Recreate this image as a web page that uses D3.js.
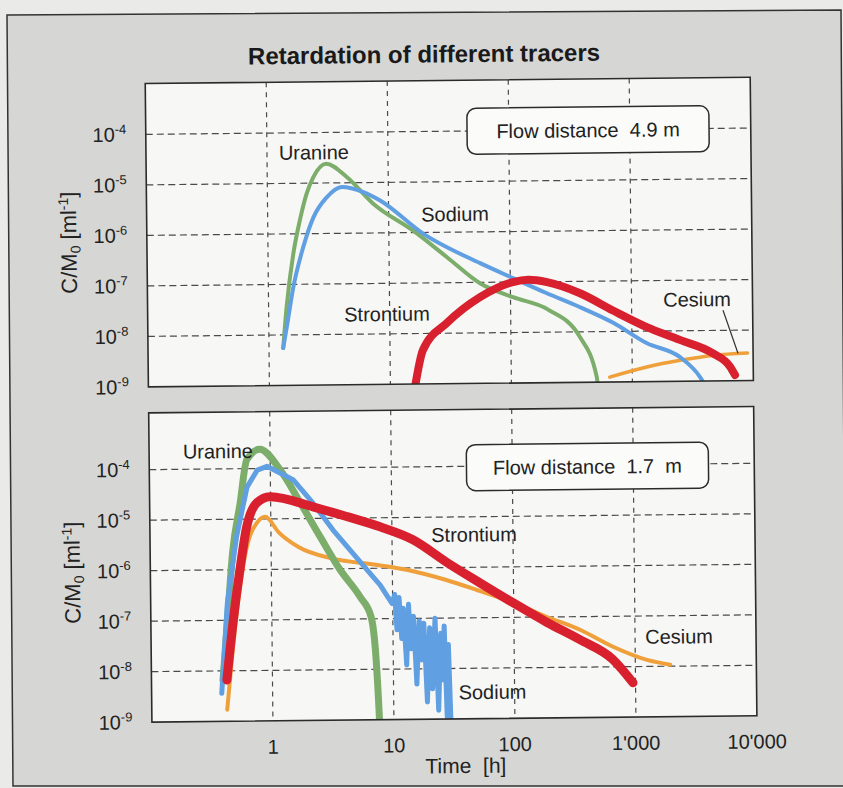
<!DOCTYPE html>
<html>
<head>
<meta charset="utf-8">
<script src="https://cdn.jsdelivr.net/npm/d3@7"></script>
<style>
  body { margin: 0; background: #eaeae8; }
  svg { display: block; font-family: "Liberation Sans", Arial, Helvetica, sans-serif; }
</style>
</head>
<body>
<svg id="chart" width="843" height="788"></svg>
<script>
// ---------------- data ----------------
var timeTicks = [1, 10, 100, 1000, 10000];
var timeTickLabels = ["1", "10", "100", "1'000", "10'000"];
var concExponents = [-4, -5, -6, -7, -8, -9];

// flow distance 4.9 m   [time h, C/M0 ml^-1]
var uranine49 = [[1.31,5.5e-9],[1.41,3.6e-8],[1.62,4.1e-7],[1.85,1.9e-6],[2.11,6.2e-6],[2.40,1.3e-5],
  [3.07,2.4e-5],[4.54,1.3e-5],[7.48,3.8e-6],[15.8,1.1e-6],[30.1,3.2e-7],[56.5,9.5e-8],
  [105,5.0e-8],[204,2.8e-8],[372,7.9e-9],[507,1.3e-9],[518,8.7e-10]];
var sodium49 = [[1.31,5.5e-9],[1.41,1.45e-8],[1.61,8.9e-8],[1.96,5.5e-7],[2.39,2.1e-6],[3.09,5.2e-6],
  [4.12,8.3e-6],[6.21,6.5e-6],[8.53,4.4e-6],[19.2,9.5e-7],[56.5,2.4e-7],[105,1.2e-7],[200,5.9e-8],
  [372,3.1e-8],[697,1.5e-8],[1320,5.8e-9],[2490,3.0e-9],[3630,1.2e-9],[3980,8.3e-10]];
var strontium49 = [[16,9e-10],[18.7,4.7e-9],[29.7,1.6e-8],[56,5.1e-8],[105,1.0e-7],[141,1.1e-7],
  [201,9.8e-8],[376,5.8e-8],[701,2.6e-8],[1330,1.2e-8],[2490,6.6e-9],[4670,3.5e-9],[6440,1.9e-9],
  [7060,1.3e-9]];
var cesium49 = [[650,1.25e-9],[1320,1.95e-9],[2490,2.6e-9],[4670,3.2e-9],[9000,3.5e-9]];

// flow distance 1.7 m
var uranine17 = [[0.39,6.6e-9],[0.43,1.0e-7],[0.48,2.2e-6],[0.56,2.1e-5],[0.64,1.5e-4],[0.82,2.4e-4],
  [1.20,9.5e-5],[1.75,2.1e-5],[2.54,4.4e-6],[3.70,9.5e-7],[5.38,2.75e-7],[6.61,1.1e-7],[7.19,1.8e-8],
  [7.55,1.55e-9],[7.6,1e-9]];
var sodium17 = [[0.38,3.6e-9],[0.43,2.2e-7],[0.52,4.6e-6],[0.64,4.3e-5],[0.78,9.3e-5],[0.94,1.1e-4],
  [1.54,5.9e-5],[2.24,2.0e-5],[3.25,5.9e-6],[4.74,2.0e-6],[6.92,6.8e-7],[7.89,4.7e-7],[9.86,2.0e-7],
  [10.4,3.0e-7],[10.8,6e-8],[11.3,2.6e-7],[11.8,4e-8],[12.2,1.6e-7],[12.9,1.2e-8],[13.5,1.9e-7],
  [14.1,2.5e-8],[14.8,1.1e-7],[15.6,5e-9],[16.5,9e-8],[17.2,1.5e-8],[18.0,8e-8],[19.0,2.2e-9],
  [20.1,6.5e-8],[21.0,4e-9],[22.3,1.0e-7],[23.5,1.5e-9],[24.8,5e-8],[25.6,6e-9],[26.5,7e-8],
  [27.6,1.1e-9],[28.6,3e-8],[29.6,8.9e-10]];
var strontium17 = [[0.42,6.6e-9],[0.48,1.0e-7],[0.55,1.0e-6],[0.63,6.9e-6],[0.77,2.1e-5],[0.99,2.75e-5],
  [2.24,1.7e-5],[4.27,1.07e-5],[7.98,6.6e-6],[14.9,3.6e-6],[28.3,1.26e-6],[52.8,4.9e-7],[98.6,1.95e-7],
  [188,7.8e-8],[350,3.5e-8],[653,1.4e-8],[953,4.8e-9]];
var cesium17 = [[0.42,1.7e-9],[0.47,2.3e-8],[0.55,4.6e-7],[0.63,2.8e-6],[0.77,8.5e-6],[0.90,1.1e-5],
  [1.16,5.4e-6],[1.70,2.7e-6],[3.18,1.6e-6],[7.76,1.15e-6],[14.3,8.8e-7],[27.0,5.8e-7],[50.4,3.5e-7],
  [98.6,1.95e-7],[188,1.0e-7],[351,5.5e-8],[656,2.5e-8],[1250,1.35e-8],[1940,1.07e-8]];

// ---------------- styles / layout ----------------
var colors = { Uranine: "#7dad6b", Sodium: "#5f9fe2", Strontium: "#d8202f", Cesium: "#f0a03a" };

var plotLeft = 148.5, plotRight = 753.5, decadePx = 50.5;

var panels = [
  {
    top: 80.7, bottom: 384, boxText: "Flow distance  4.9 m", boxX: 590.8, boxY: 131.8, xLabels: false,
    series: [
      { name: "Cesium", data: cesium49, width: 3.5 },
      { name: "Uranine", data: uranine49, width: 4 },
      { name: "Sodium", data: sodium49, width: 4 },
      { name: "Strontium", data: strontium49, width: 8 }
    ],
    labels: [
      { text: "Uranine", t: 2.44, c: 4.1e-5 },
      { text: "Sodium", t: 35.4, c: 2.3e-6 },
      { text: "Strontium", t: 9.5, c: 2.5e-8 },
      { text: "Cesium", t: 3480, c: 4.2e-8 }
    ],
    leader: [[5690, 2.5e-8], [7500, 3.5e-9]],
    yTitleY: 239
  },
  {
    top: 410, bottom: 719.3, boxText: "Flow distance  1.7  m", boxX: 586.7, boxY: 468.2, xLabels: true,
    series: [
      { name: "Cesium", data: cesium17, width: 4 },
      { name: "Uranine", data: uranine17, width: 7 },
      { name: "Sodium", data: sodium17, width: 5, linear: true },
      { name: "Strontium", data: strontium17, width: 9 }
    ],
    labels: [
      { text: "Uranine", t: 0.37, c: 2.26e-4 },
      { text: "Strontium", t: 47.6, c: 4.5e-6 },
      { text: "Cesium", t: 2310, c: 3.9e-8 },
      { text: "Sodium", t: 65.6, c: 3.4e-9 }
    ],
    leader: null,
    yTitleY: 569
  }
];

// ---------------- drawing ----------------
var svg = d3.select("#chart");

// scanned page frame
svg.append("path")
  .attr("d", "M7,15 L841,10 L846,786 L13,786 Z")
  .attr("fill", "#d6d6d4")
  .attr("stroke", "#333")
  .attr("stroke-width", 1.5);

var g = svg.append("g").attr("transform", "rotate(-0.6,421,394)");

g.append("text")
  .attr("x", 427.6).attr("y", 62.6)
  .attr("text-anchor", "middle")
  .attr("font-size", 24).attr("font-weight", "bold")
  .attr("fill", "#1a1a1a")
  .text("Retardation of different tracers");

var x = d3.scaleLog().domain([0.1, 10000]).range([plotLeft, plotRight]);

panels.forEach(function(p, pi) {
  var y = d3.scaleLog().domain([1e-9, 1e-3]).range([p.bottom, p.bottom - 6 * decadePx]);

  var clipId = "clip" + pi;
  g.append("clipPath").attr("id", clipId)
    .append("rect")
    .attr("x", plotLeft).attr("y", p.top)
    .attr("width", plotRight - plotLeft).attr("height", p.bottom - p.top);

  g.append("rect")
    .attr("x", plotLeft).attr("y", p.top)
    .attr("width", plotRight - plotLeft).attr("height", p.bottom - p.top)
    .attr("fill", "#f7f7f5");

  // grid
  var gy = concExponents.filter(function(e) { return e > -9; }).map(function(e) { return Math.pow(10, e); });
  g.append("g").selectAll("line").data(gy).enter().append("line")
    .attr("x1", plotLeft).attr("x2", plotRight)
    .attr("y1", function(d) { return y(d); }).attr("y2", function(d) { return y(d); })
    .attr("stroke", "#4a4a4a").attr("stroke-width", 1.2).attr("stroke-dasharray", "7,4");
  g.append("g").selectAll("line").data(timeTicks.slice(0, 4)).enter().append("line")
    .attr("x1", function(d) { return x(d); }).attr("x2", function(d) { return x(d); })
    .attr("y1", p.top).attr("y2", p.bottom)
    .attr("stroke", "#4a4a4a").attr("stroke-width", 1.2).attr("stroke-dasharray", "5,5");

  // series
  var lines = g.append("g").attr("clip-path", "url(#" + clipId + ")");
  p.series.forEach(function(s) {
    var line = d3.line()
      .x(function(d) { return x(d[0]); })
      .y(function(d) { return y(d[1]); })
      .curve(s.linear ? d3.curveLinear : d3.curveMonotoneX);
    lines.append("path")
      .attr("d", line(s.data))
      .attr("fill", "none")
      .attr("stroke", colors[s.name])
      .attr("stroke-width", s.width)
      .attr("stroke-linejoin", "round")
      .attr("stroke-linecap", "round");
  });

  // border
  g.append("rect")
    .attr("x", plotLeft).attr("y", p.top)
    .attr("width", plotRight - plotLeft).attr("height", p.bottom - p.top)
    .attr("fill", "none").attr("stroke", "#2b2b2b").attr("stroke-width", 1.6);

  // series labels
  g.append("g").selectAll("text").data(p.labels).enter().append("text")
    .attr("x", function(d) { return x(d.t); })
    .attr("y", function(d) { return y(d.c); })
    .attr("dy", "0.36em")
    .attr("text-anchor", "middle")
    .attr("font-size", 20).attr("fill", "#222")
    .text(function(d) { return d.text; });

  if (p.leader) {
    g.append("line")
      .attr("x1", x(p.leader[0][0])).attr("y1", y(p.leader[0][1]))
      .attr("x2", x(p.leader[1][0])).attr("y2", y(p.leader[1][1]))
      .attr("stroke", "#333").attr("stroke-width", 1.2);
  }

  // flow distance box
  g.append("rect")
    .attr("x", p.boxX - 121).attr("y", p.boxY - 23)
    .attr("width", 242).attr("height", 46)
    .attr("rx", 9).attr("ry", 9)
    .attr("fill", "#fbfbfa").attr("stroke", "#2b2b2b").attr("stroke-width", 1.5);
  g.append("text")
    .attr("x", p.boxX).attr("y", p.boxY).attr("dy", "0.36em")
    .attr("text-anchor", "middle")
    .attr("font-size", 20).attr("fill", "#222")
    .style("white-space", "pre")
    .text(p.boxText);

  // y tick labels
  var yl = g.append("g").selectAll("text").data(concExponents).enter().append("text")
    .attr("x", 129)
    .attr("y", function(e) { return y(Math.pow(10, e)) + 7; })
    .attr("text-anchor", "end")
    .attr("fill", "#222");
  yl.append("tspan").attr("font-size", 20).text("10");
  yl.append("tspan").attr("font-size", 13).attr("dy", -8).text(function(e) { return String(e); });

  // y title
  var yt = g.append("text")
    .attr("transform", "translate(78," + p.yTitleY + ") rotate(-90)")
    .attr("text-anchor", "middle")
    .attr("font-size", 22).attr("fill", "#222");
  yt.append("tspan").text("C/M");
  yt.append("tspan").attr("font-size", 14).attr("dy", 4).text("0");
  yt.append("tspan").attr("dy", -4).style("white-space", "pre").text(" [ml");
  yt.append("tspan").attr("font-size", 14).attr("dy", -8).text("-1");
  yt.append("tspan").attr("dy", 8).text("]");

  if (p.xLabels) {
    g.append("g").selectAll("text").data(timeTicks).enter().append("text")
      .attr("x", function(d) { return x(d); })
      .attr("y", 752)
      .attr("text-anchor", "middle")
      .attr("font-size", 20).attr("fill", "#222")
      .text(function(d, i) { return timeTickLabels[i]; });
    g.append("text")
      .attr("x", 462).attr("y", 773.5)
      .attr("text-anchor", "middle")
      .attr("font-size", 21).attr("fill", "#222")
      .style("white-space", "pre")
      .text("Time  [h]");
  }
});
</script>
</body>
</html>
